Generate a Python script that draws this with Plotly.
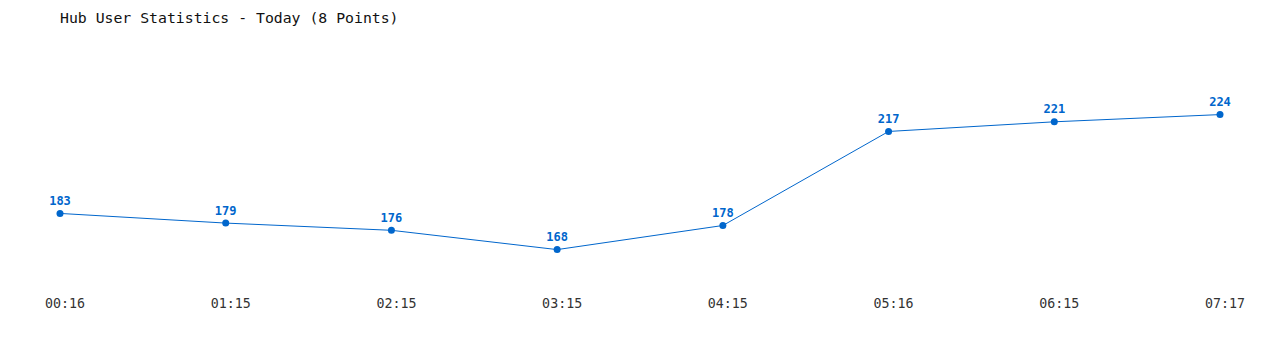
import plotly.graph_objects as go

times = ["00:16", "01:15", "02:15", "03:15", "04:15", "05:16", "06:15", "07:17"]
users = [183, 179, 176, 168, 178, 217, 221, 224]
idx = list(range(len(times)))

fig = go.Figure()
fig.add_trace(go.Scatter(
    x=idx, y=users, mode="lines+markers+text",
    line=dict(color="#0066cc", width=1),
    marker=dict(color="#0066cc", size=7),
    text=[str(v) for v in users], textposition="top center",
    textfont=dict(family="DejaVu Sans Mono", size=12, color="#0066cc", weight="bold"),
    cliponaxis=False, hoverinfo="skip",
))
fig.update_layout(
    width=1280, height=350,
    margin=dict(l=60, r=60, t=76, b=57),
    paper_bgcolor="white", plot_bgcolor="white",
    showlegend=False,
    title=dict(text="Hub User Statistics - Today (8 Points)", x=60/1280, xanchor="left",
               y=1-18/350, yanchor="middle",
               font=dict(family="DejaVu Sans Mono", size=14.8, color="#111111")),
    xaxis=dict(range=[0, 7], tickvals=idx, ticktext=times, showgrid=False, zeroline=False,
               showline=False, ticks="", ticklabelshift=5, ticklabelstandoff=1,
               tickfont=dict(family="DejaVu Sans Mono", size=13.3, color="#333333")),
    yaxis=dict(range=[150, 240], visible=False, showgrid=False, zeroline=False),
)
fig.write_html("out.html")
